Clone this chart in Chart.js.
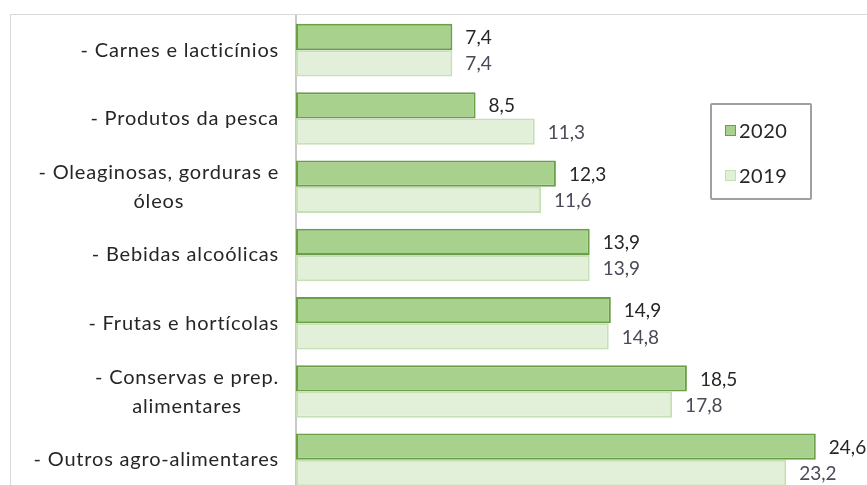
<!DOCTYPE html>
<html>
<head>
<meta charset="utf-8">
<script src="https://cdn.jsdelivr.net/npm/chart.js@4"></script>
<style>
  html, body { margin: 0; padding: 0; background: #fff; overflow: hidden; }
  #moldura {
    position: absolute; left: 10px; top: 14px;
    width: 921px; height: 480px;
    border-top: 1px solid #d9d9d9;
    border-left: 1px solid #d9d9d9;
  }
  #legenda {
    position: absolute; left: 710px; top: 103px;
    width: 98px; height: 93px;
    border: 2px solid #a0a0a0; border-radius: 2px;
    font-family: Lato, sans-serif; font-size: 20px; color: #262626;
    letter-spacing: 0.5px;
  }
  .item { position: absolute; left: 13px; display: flex; align-items: center; }
  .cor { width: 9px; height: 9px; margin-right: 3px; border: 1px solid; }
</style>
</head>
<body>
<div id="moldura"><canvas id="exportacoes" width="921" height="480"></canvas></div>
<div id="legenda"></div>
<script>
// Categorias (linhas de cada rótulo)
const categorias = [
  ["- Carnes e lacticínios"],
  ["- Produtos da pesca"],
  ["- Oleaginosas, gorduras e", "óleos"],
  ["- Bebidas alcoólicas"],
  ["- Frutas e hortícolas"],
  ["- Conservas e prep.", "alimentares"],
  ["- Outros agro-alimentares"],
];

const anos = ["2020", "2019"];
const valores2020 = [7.4, 8.5, 12.3, 13.9, 14.9, 18.5, 24.6];
const valores2019 = [7.4, 11.3, 11.6, 13.9, 14.8, 17.8, 23.2];

// Rótulos do eixo Y (texto centrado por bloco, bloco alinhado à direita)
const rotulosY = {
  id: "rotulosY",
  afterDraw(chart) {
    const ctx = chart.ctx;
    const y = chart.scales.y;
    ctx.save();
    ctx.font = "20px Lato";
    ctx.letterSpacing = "0.8px";
    ctx.fillStyle = "#262626";
    ctx.textBaseline = "middle";
    ctx.textAlign = "center";
    categorias.forEach((linhas, i) => {
      const py = y.getPixelForValue(i);
      const largura = Math.max(...linhas.map((l) => ctx.measureText(l).width));
      const centro = y.right - 17 - largura / 2;
      linhas.forEach((l, j) => {
        ctx.fillText(l, centro, py + (j - (linhas.length - 1) / 2) * 29);
      });
    });
    ctx.restore();
  },
};

// Valores à direita das barras
const rotulosValores = {
  id: "rotulosValores",
  afterDatasetsDraw(chart) {
    const ctx = chart.ctx;
    ctx.save();
    ctx.font = "19px Lato";
    ctx.textBaseline = "middle";
    ctx.textAlign = "left";
    chart.data.datasets.forEach((ds, d) => {
      ctx.fillStyle = d === 0 ? "#262626" : "#4a4a58";
      chart.getDatasetMeta(d).data.forEach((bar, i) => {
        ctx.fillText(ds.data[i].toFixed(1).replace(".", ","), bar.x + 13, bar.y + 1);
      });
    });
    ctx.restore();
  },
};

const ctx = document.getElementById("exportacoes").getContext("2d");

const grafico = new Chart(ctx, {
  type: "bar",
  data: {
    labels: categorias.map((c) => c.join(" ")),
    datasets: [
      {
        label: anos[0],
        data: valores2020,
        backgroundColor: "#a9d18e",
        borderColor: "#6a9f48",
        borderWidth: 2,
        borderSkipped: false,
      },
      {
        label: anos[1],
        data: valores2019,
        backgroundColor: "#e2f0d9",
        borderColor: "#c5e0b4",
        borderWidth: 2,
        borderSkipped: false,
      },
    ],
  },
  options: {
    indexAxis: "y",
    responsive: false,
    animation: false,
    layout: { padding: { top: 1, bottom: 1, left: 0, right: 0 } },
    datasets: {
      bar: { barPercentage: 1, categoryPercentage: 0.77 },
    },
    plugins: {
      legend: { display: false },
      tooltip: { enabled: false },
    },
    scales: {
      x: {
        display: false,
        min: 0,
        max: 30.1,
      },
      y: {
        grid: { display: false },
        border: { display: true, color: "#c8c8c8", width: 2 },
        ticks: { display: false },
        afterFit(scale) {
          scale.width = 285;
        },
      },
    },
  },
  plugins: [rotulosY, rotulosValores],
});

// Legenda em HTML a partir dos datasets
const legenda = document.getElementById("legenda");
grafico.data.datasets.forEach((ds, i) => {
  const item = document.createElement("div");
  item.className = "item";
  item.style.top = (i === 0 ? 13 : 58) + "px";
  const cor = document.createElement("span");
  cor.className = "cor";
  cor.style.background = ds.backgroundColor;
  cor.style.borderColor = ds.borderColor;
  item.appendChild(cor);
  item.appendChild(document.createTextNode(ds.label));
  legenda.appendChild(item);
});
</script>
</body>
</html>
